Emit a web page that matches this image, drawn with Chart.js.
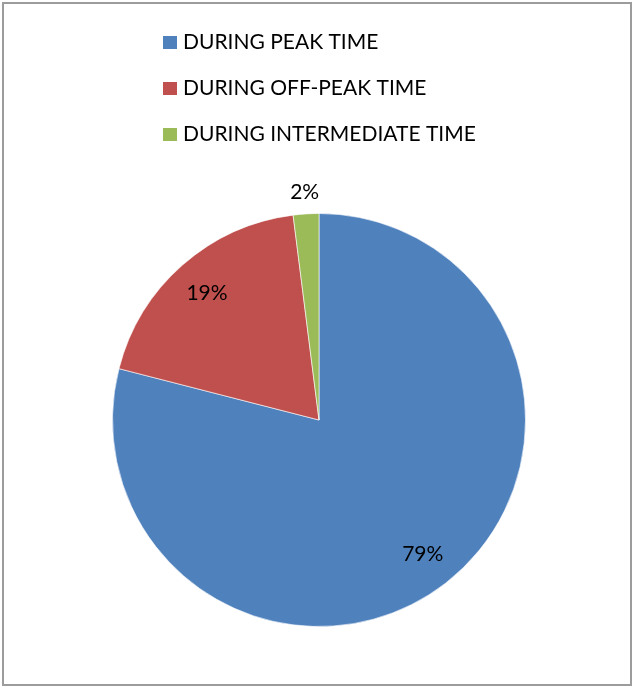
<!DOCTYPE html>
<html>
<head>
<meta charset="utf-8">
<script src="https://cdn.jsdelivr.net/npm/chart.js@4"></script>
<style>
  html, body { margin: 0; padding: 0; background: #fff; }
  #wrap { position: relative; width: 634px; height: 687px; }
  #frame {
    position: absolute; left: 2px; top: 2px; width: 626px; height: 680px;
    border: 2px solid #9c9c9c; pointer-events: none;
  }
  canvas { position: absolute; left: 0; top: 0; }
</style>
</head>
<body>
<div id="wrap">
  <canvas id="pieChart" width="634" height="687"></canvas>
  <div id="frame"></div>
</div>
<script>
const labels = ['DURING PEAK TIME', 'DURING OFF-PEAK TIME', 'DURING INTERMEDIATE TIME'];
const shares = [79, 19, 2];
const colors = ['#4F81BD', '#C0504D', '#9BBB59'];

const FONT = '21px Lato';

// legend (stacked, left aligned) + percentage labels
const excelLabels = {
    id: 'excelLabels',
    afterDraw(chart) {
        const ctx = chart.ctx;
        ctx.save();
        ctx.font = FONT;
        ctx.fillStyle = '#000';
        ctx.textBaseline = 'middle';

        // legend
        labels.forEach((label, i) => {
            const y = 42 + i * 46;
            ctx.fillStyle = colors[i];
            ctx.fillRect(163, y - 6, 14, 13);
            ctx.fillStyle = '#000';
            ctx.textAlign = 'left';
            ctx.fillText(label, 183, y);
        });

        // slice percentages
        const meta = chart.getDatasetMeta(0);
        ctx.textAlign = 'center';
        meta.data.forEach((arc, i) => {
            const p = arc.getProps(['x', 'y', 'startAngle', 'endAngle', 'outerRadius'], true);
            const mid = (p.startAngle + p.endAngle) / 2;
            const r = shares[i] < 5 ? p.outerRadius + 22 : p.outerRadius * 0.82;
            ctx.fillText(shares[i] + '%', p.x + Math.cos(mid) * r, p.y + Math.sin(mid) * r);
        });
        ctx.restore();
    }
};

new Chart(document.getElementById('pieChart'), {
    type: 'pie',
    data: {
        labels: labels,
        datasets: [{
            data: shares,
            backgroundColor: colors,
            borderColor: 'rgba(255,255,255,0.6)',
            borderWidth: 1
        }]
    },
    options: {
        responsive: false,
        animation: false,
        layout: { padding: { left: 112, right: 108, top: 213, bottom: 60 } },
        plugins: {
            legend: { display: false },
            tooltip: { enabled: false }
        }
    },
    plugins: [excelLabels]
});
</script>
</body>
</html>
